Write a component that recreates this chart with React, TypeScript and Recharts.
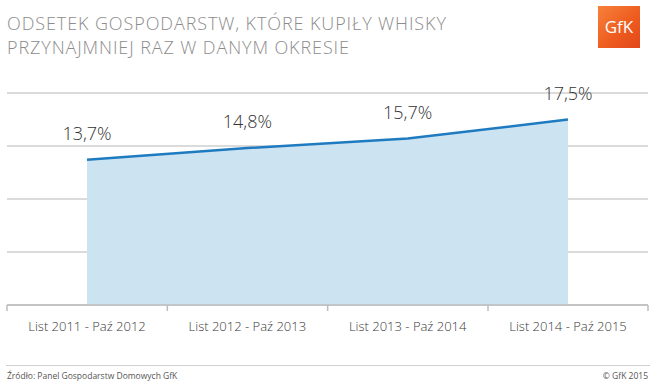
import React from 'react';
import { AreaChart, Area, XAxis, YAxis, CartesianGrid, LabelList } from 'recharts';

const PERIODS = ['List 2011 - Paź 2012', 'List 2012 - Paź 2013', 'List 2013 - Paź 2014', 'List 2014 - Paź 2015'];
const SHARE = [13.7, 14.8, 15.7, 17.5];
const Y_TICKS = [0, 5, 10, 15, 20];

const chartData = PERIODS.map((period, i) => ({ period, share: SHARE[i] }));

const FONT = '"Open Sans", "DejaVu Sans", sans-serif';
const HALF_BAND = 80;

const AxisTick = ({ x, y, payload }: any) => {
  const isLast = payload.value === PERIODS[PERIODS.length - 1];
  return (
    <g>
      <line x1={x - HALF_BAND} y1={y} x2={x - HALF_BAND} y2={y + 6} stroke="#bdbdbd" strokeWidth={1.5} />
      {isLast && <line x1={x + HALF_BAND} y1={y} x2={x + HALF_BAND} y2={y + 6} stroke="#bdbdbd" strokeWidth={1.5} />}
      <text x={x} y={y + 26} textAnchor="middle" fontSize={13} fill="#3a3a3a" fontFamily={FONT} fontWeight={300}>
        {payload.value}
      </text>
    </g>
  );
};

const fmt = (v: any) => `${Number(v).toFixed(1).replace('.', ',')}%`;

export default function App() {
  return (
    <div style={{ position: 'absolute', left: 0, top: 0, width: 655, height: 385, background: '#fff', fontFamily: FONT }}>
      <div style={{ position: 'absolute', left: 7, top: 11, fontSize: 18, fontWeight: 300, color: '#8c8c8c', lineHeight: '24px', letterSpacing: 0.9 }}>
        <div>ODSETEK GOSPODARSTW, KTÓRE KUPIŁY WHISKY</div>
        <div>PRZYNAJMNIEJ RAZ W DANYM OKRESIE</div>
      </div>
      <div
        style={{
          position: 'absolute', left: 598, top: 6, width: 42, height: 42,
          background: 'linear-gradient(135deg, #f7813a 0%, #ee5d1f 55%, #e2461a 100%)',
          color: '#fff', fontSize: 17, lineHeight: '42px', textAlign: 'center', fontFamily: FONT,
        }}
      >
        GfK
      </div>
      <AreaChart width={655} height={385} data={chartData} margin={{ top: 93, right: 7, bottom: 50, left: 7 }}>
        <CartesianGrid horizontal vertical={false} stroke="#cfcfcf" strokeWidth={1.5} />
        <YAxis hide domain={[0, 20]} ticks={Y_TICKS} />
        <XAxis
          dataKey="period"
          padding={{ left: HALF_BAND, right: HALF_BAND }}
          height={30}
          tickSize={0}
          tickMargin={0}
          tickLine={false}
          axisLine={{ stroke: '#bdbdbd', strokeWidth: 1.5 }}
          tick={<AxisTick />}
          interval={0}
        />
        <Area
          type="linear"
          dataKey="share"
          stroke="#1f7bc0"
          strokeWidth={2.5}
          fill="#cce3f2"
          fillOpacity={1}
          isAnimationActive={false}
        >
          <LabelList dataKey="share" position="top" offset={20} formatter={fmt} fontSize={18} fill="#333" fontFamily={FONT} fontWeight={300} />
        </Area>
      </AreaChart>
      <div style={{ position: 'absolute', left: 6, top: 365, width: 644, borderTop: '1.5px solid #d0d0d0' }} />
      <div style={{ position: 'absolute', left: 7, top: 370, fontSize: 8.5, color: '#555' }}>Źródło: Panel Gospodarstw Domowych GfK</div>
      <div style={{ position: 'absolute', right: 7, top: 370, fontSize: 8.5, color: '#555' }}>© GfK 2015</div>
    </div>
  );
}
